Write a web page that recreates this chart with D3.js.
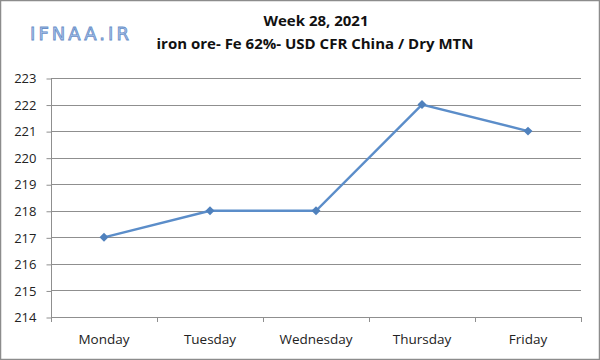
<!DOCTYPE html>
<html><head><meta charset="utf-8">
<script src="https://cdn.jsdelivr.net/npm/d3@7"></script>
<style>body{margin:0;background:#fff}svg{display:block}</style>
</head><body>
<script>
const categories = ["Monday","Tuesday","Wednesday","Thursday","Friday"];
const values = [217, 218, 218, 222, 221];
const yTicks = [214,215,216,217,218,219,220,221,222,223];
const titleLines = ["Week 28, 2021", "iron ore- Fe 62%- USD CFR China / Dry MTN"];
const logoText = "IFNAA.IR";

(function(){
const W = 600, H = 360;
const svg = d3.select("body").append("svg").attr("width", W).attr("height", H);
svg.append("rect").attr("x",0.5).attr("y",0.5).attr("width",W-1).attr("height",H-1)
  .attr("fill","#fff").attr("stroke","#8c8c8c").attr("stroke-width",1.5);

const pL = 51, pR = 581, pT = 78, pB = 317;
const x = d3.scaleBand().domain(categories).range([pL, pR]);
const y = d3.scaleLinear().domain([214, 223]).range([pB, pT]);
const axisCol = "#8f8f8f";

// gridlines
svg.append("g").selectAll("line").data(yTicks).join("line")
  .attr("x1", pL).attr("x2", pR)
  .attr("y1", d => Math.round(y(d))+0.5).attr("y2", d => Math.round(y(d))+0.5)
  .attr("stroke", axisCol).attr("stroke-width", 1);

// y axis
const yAxis = d3.axisLeft(y).tickValues(yTicks).tickSize(5).tickPadding(10).tickFormat(d3.format("d"));
const gy = svg.append("g").attr("transform", `translate(${pL+0.5},0.5)`).call(yAxis);
gy.select(".domain").attr("stroke",axisCol).attr("d", `M0,${pT-0.5}V${pB}`);
gy.selectAll(".tick line").attr("stroke",axisCol);
gy.selectAll("text").attr("font-family","'Open Sans', sans-serif").attr("font-size",13).attr("fill","#222");

// x axis
const xAxis = d3.axisBottom(x).tickSize(0).tickPadding(17);
const gx = svg.append("g").attr("transform", `translate(0,${pB+0.5})`).call(xAxis);
gx.select(".domain").attr("stroke",axisCol).attr("d", `M${pL},0H${pR}`);
gx.selectAll("text").attr("font-family","'Open Sans', sans-serif").attr("font-size",13.5).attr("fill","#222");
const bounds = categories.map(c => x(c)).concat([pR]);
svg.append("g").selectAll("line").data(bounds).join("line")
  .attr("x1", d => Math.round(d)+0.5).attr("x2", d => Math.round(d)+0.5)
  .attr("y1", pB).attr("y2", pB+5)
  .attr("stroke",axisCol);

// line
const pts = categories.map((c,i) => [x(c)+x.bandwidth()/2, y(values[i])]);
svg.append("path").datum(pts).attr("d", d3.line())
  .attr("fill","none").attr("stroke","#5b8dc9").attr("stroke-width",2.4);
svg.append("g").selectAll("path").data(pts).join("path")
  .attr("d", d3.symbol(d3.symbolSquare, 40)())
  .attr("transform", d => `translate(${d[0]},${d[1]}) rotate(45)`)
  .attr("fill","#4f81bd");

// titles
svg.append("text").attr("x", 316).attr("y", 26).attr("text-anchor","middle")
  .attr("font-family","'Open Sans', sans-serif").attr("font-size",15).attr("font-weight","bold")
  .attr("fill","#111").text(titleLines[0]);
svg.append("text").attr("x", 315).attr("y", 49).attr("text-anchor","middle")
  .attr("font-family","'Open Sans', sans-serif").attr("font-size",15).attr("font-weight","bold")
  .attr("fill","#111").text(titleLines[1]);

// logo
svg.append("text").attr("x", 30).attr("y", 40)
  .attr("font-family","'DejaVu Sans', sans-serif").attr("font-size",18)
  .attr("textLength", 99).attr("lengthAdjust","spacing")
  .attr("fill","#a9c4ea").attr("stroke","#6a8fc8").attr("stroke-width",0.8)
  .text(logoText);
})();
</script>
</body></html>
